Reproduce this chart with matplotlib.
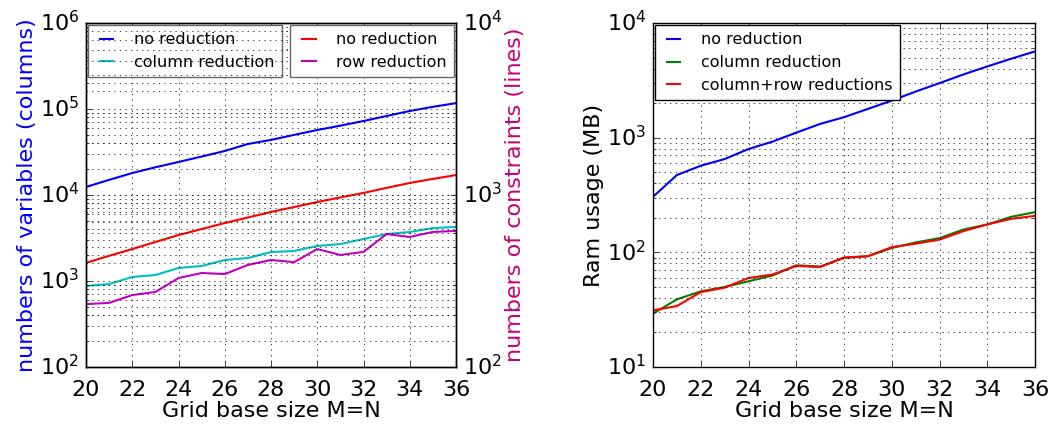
import numpy as np
import matplotlib
matplotlib.use('Agg')
import matplotlib.pyplot as plt

plt.style.use('classic')

M = np.arange(20, 37)

# left plot: variables (left axis) and constraints (right axis)
var_none = [12400, 15000, 18000, 21000, 24200, 28000, 32500, 39200, 43700,
            50000, 57000, 64000, 72500, 83000, 94800, 106000, 117000]
var_col = [875, 922, 1113, 1175, 1416, 1494, 1754, 1850, 2172, 2233, 2553,
           2692, 3077, 3520, 3715, 4130, 4250]
con_none = [403, 443, 485, 533, 585, 634, 687, 740, 796, 852, 910, 968, 1028,
            1100, 1175, 1240, 1306]
con_row = [232, 236, 262, 273, 329, 352, 347, 392, 419, 407, 485, 448, 467,
           593, 570, 610, 618]

# right plot: RAM usage in MB
ram_none = [305, 472, 569, 651, 796, 923, 1106, 1318, 1508, 1781, 2106, 2523,
            2990, 3557, 4180, 4877, 5650]
ram_col = [29.2, 38.9, 45.7, 49.9, 55.9, 62.7, 77.1, 75.1, 89.3, 92.4, 109,
           122, 133, 158, 175, 204, 224]
ram_colrow = [31.2, 34.0, 45.0, 49.2, 59.7, 64.0, 76.0, 74.5, 90.2, 92.5,
              111, 119, 129, 153, 175, 196, 208]

legkw = dict(fontsize=11.5, fancybox=False, borderaxespad=0.12,
             handlelength=1.45, handletextpad=1.0, borderpad=0.45)

fig = plt.figure(figsize=(10.58, 4.28), dpi=100, facecolor='white')

# --- left
ax1 = fig.add_axes([86/1058, 1-367/428, 370/1058, 344/428])
ax2 = ax1.twinx()
l1, = ax1.plot(M, var_none, 'b-', lw=1.5, label='no reduction')
l2, = ax1.plot(M, var_col, 'c-', lw=1.5, label='column reduction')
l3, = ax2.plot(M, con_none, 'r-', lw=1.5, label='no reduction')
l4, = ax2.plot(M, con_row, 'm-', lw=1.5, label='row reduction')
ax1.set_yscale('log')
ax2.set_yscale('log')
ax1.set_ylim(1e2, 1e6)
ax2.set_ylim(1e2, 1e4)
ax1.set_xlim(20, 36)
ax1.set_xticks(range(20, 37, 2))
ax1.grid(True, which='both')
ax2.grid(True, which='both')
ax1.set_xlabel('Grid base size M=N', fontsize=16, labelpad=1)
ax1.set_ylabel('numbers of variables (columns)', fontsize=16, color='b', labelpad=2)
ax2.set_ylabel('numbers of constraints (lines)', fontsize=16, color='#c8007a', labelpad=2)
ax1.tick_params(axis='y', labelsize=16, pad=5)
ax1.tick_params(axis='x', labelsize=16, pad=9)
ax2.tick_params(labelsize=16, pad=5)
leg1 = ax1.legend(handles=[l1, l2], loc='upper left', **legkw)
leg1.get_frame().set_edgecolor('0.4')
leg2 = ax2.legend(handles=[l3, l4], loc='upper right', **legkw)
leg2.get_frame().set_edgecolor('0.4')

# --- right
ax3 = fig.add_axes([653/1058, 1-367/428, 382/1058, 344/428])
ax3.plot(M, ram_none, 'b-', lw=1.5, label='no reduction')
ax3.plot(M, ram_col, 'g-', lw=1.5, label='column reduction')
ax3.plot(M, ram_colrow, 'r-', lw=1.5, label='column+row reductions')
ax3.set_yscale('log')
ax3.set_ylim(1e1, 1e4)
ax3.set_xlim(20, 36)
ax3.set_xticks(range(20, 37, 2))
ax3.grid(True, which='both')
ax3.set_xlabel('Grid base size M=N', fontsize=16, labelpad=1)
ax3.set_ylabel('Ram usage (MB)', fontsize=16, labelpad=2)
ax3.tick_params(axis='y', labelsize=16, pad=5)
ax3.tick_params(axis='x', labelsize=16, pad=9)
ax3.legend(loc='upper left', **legkw)

fig.savefig('out.png', dpi=100, facecolor='white')
